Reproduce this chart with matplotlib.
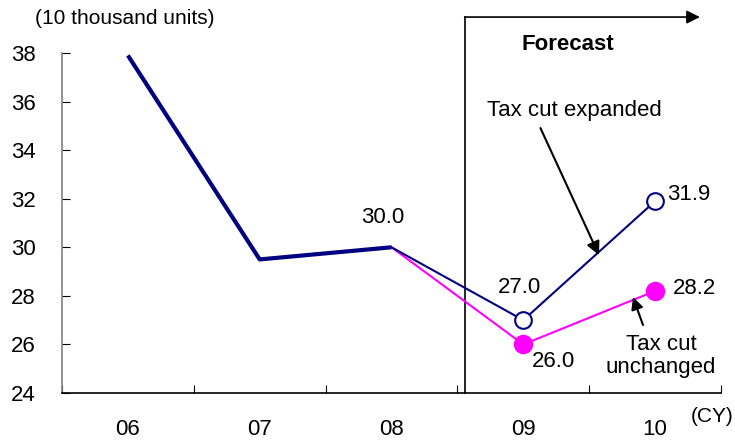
import matplotlib.pyplot as plt

plt.rcParams['font.family'] = ['Liberation Sans', 'DejaVu Sans']

years = ['06', '07', '08', '09', '10']
actual = [37.9, 29.5, 30.0]
expanded = [30.0, 27.0, 31.9]
unchanged = [30.0, 26.0, 28.2]
yticks = [24, 26, 28, 30, 32, 34, 36, 38]

navy = '#000080'
magenta = '#ff00ff'
fs = 16

fig = plt.figure(figsize=(7.35, 4.4), dpi=100)
ax = fig.add_axes([62 / 735, 47 / 440, 659 / 735, 340 / 440])

x = list(range(len(years)))

# actual sales, thick line
ax.plot(x[:3], actual, color=navy, lw=3, solid_capstyle='butt', zorder=3)
# forecast scenarios
ax.plot(x[2:], unchanged, color=magenta, lw=1.5, zorder=3)
ax.plot(x[3:], unchanged[1:], 'o', color=magenta, ms=13, zorder=4)
ax.plot(x[2:], expanded, color=navy, lw=1.5, zorder=3)
ax.plot(x[3:], expanded[1:], 'o', mfc='white', mec=navy, mew=1.5, ms=12, zorder=4)

ax.set_xlim(-0.5, 4.5)
ax.set_ylim(24, 38)
ax.set_yticks(yticks)
ax.set_xticks([i + 0.5 for i in range(-1, 5)])
ax.set_xticklabels([])
ax.set_xticks(x, minor=True)
ax.set_xticklabels(years, minor=True, fontsize=fs)
ax.tick_params(axis='x', which='minor', length=0, pad=19)
ax.tick_params(axis='x', which='major', direction='in', length=6, width=0.8)
ax.tick_params(axis='y', direction='in', length=6, width=0.8, labelsize=fs, pad=19)
ax.spines['top'].set_visible(False)
ax.spines['right'].set_visible(False)
ax.spines['left'].set_color('#808080')
ax.spines['left'].set_linewidth(1.2)
ax.spines['bottom'].set_linewidth(1.2)

# value labels
def value_label(xi, v, dx, dy, ha, va):
    ax.annotate(f'{v:.1f}', xy=(xi, v), xytext=(dx, dy), textcoords='offset points',
                ha=ha, va=va, fontsize=fs)

value_label(2, actual[2], -6, 14, 'center', 'bottom')
value_label(3, expanded[1], -3, 16, 'center', 'bottom')
value_label(3, unchanged[1], 6, -5, 'left', 'top')
value_label(4, expanded[2], 9, 5, 'left', 'center')
value_label(4, unchanged[2], 13, 2, 'left', 'center')

# forecast bracket
ax.plot([2.56, 2.56], [24, 39.48], color='black', lw=1.2, clip_on=False)
ax.annotate('', xy=(4.34, 39.48), xytext=(2.555, 39.48),
            arrowprops=dict(arrowstyle='-|>', color='black', lw=1.2,
                            mutation_scale=20, shrinkA=0, shrinkB=0),
            annotation_clip=False)
ax.text(3.34, 38.33, 'Forecast', ha='center', va='center', fontsize=fs, fontweight='bold')

# scenario callouts
ax.text(3.39, 35.65, 'Tax cut expanded', ha='center', va='center', fontsize=fs)
ax.annotate('', xy=(3.574, 29.68), xytext=(3.13, 34.91),
            arrowprops=dict(arrowstyle='-|>', color='black', lw=1.5,
                            mutation_scale=20, shrinkA=0, shrinkB=0))
ax.text(4.045, 25.52, 'Tax cut\nunchanged', ha='center', va='center',
        fontsize=fs, linespacing=1.1)
ax.annotate('', xy=(3.832, 27.95), xytext=(3.908, 26.8),
            arrowprops=dict(arrowstyle='-|>', color='black', lw=1.5,
                            mutation_scale=18, shrinkA=0, shrinkB=0))

fig.text(35 / 735, 1 - 18 / 440, '(10 thousand units)', ha='left', va='center', fontsize=15)
fig.text(734 / 735, 1 - 416 / 440, '(CY)', ha='right', va='center', fontsize=15)

fig.savefig('out.png', dpi=100)
